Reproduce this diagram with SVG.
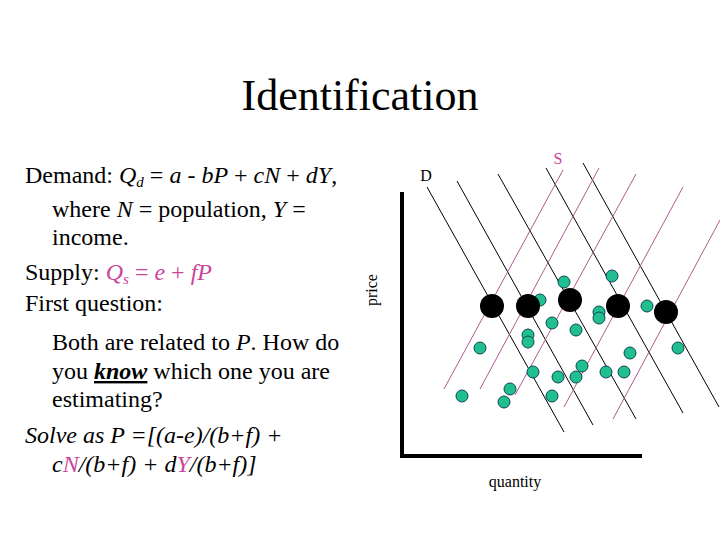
<svg xmlns="http://www.w3.org/2000/svg" width="720" height="540" viewBox="0 0 720 540" font-family="'Liberation Serif', 'Times New Roman', 'DejaVu Serif', serif">
<style>
text{font-family:'Liberation Serif','Times New Roman','DejaVu Serif',serif;fill:#000}
.b{font-size:24px}
.p{fill:#cc4499}
.dl{stroke:#000;stroke-width:1}
.sl{stroke:#b05a90;stroke-width:1}
.g{fill:#1fbf8f;stroke:#145;stroke-width:1}
.k{fill:#000}
</style>
<rect width="720" height="540" fill="#fff"/>
<text x="360" y="110" font-size="44" text-anchor="middle">Identification</text>
<g id="text">
<text x="25" y="183" class="b">Demand: <tspan font-style="italic">Q</tspan><tspan font-style="italic" font-size="15" dy="4">d</tspan><tspan dy="-4"> = </tspan><tspan font-style="italic">a</tspan> - <tspan font-style="italic">bP</tspan> + <tspan font-style="italic">cN</tspan> + <tspan font-style="italic">dY</tspan>,</text>
<text x="52" y="217" class="b">where <tspan font-style="italic">N</tspan> = population, <tspan font-style="italic">Y</tspan> =</text>
<text x="52" y="245" class="b">income.</text>
<text x="25" y="280" class="b">Supply: <tspan class="p" font-style="italic">Q</tspan><tspan class="p" font-style="italic" font-size="15" dy="4">s</tspan><tspan class="p" dy="-4"> = </tspan><tspan class="p" font-style="italic">e</tspan><tspan class="p"> + </tspan><tspan class="p" font-style="italic">fP</tspan></text>
<text x="25" y="311" class="b">First question:</text>
<text x="52" y="350" class="b">Both are related to <tspan font-style="italic">P</tspan>.  How do</text>
<text x="52" y="379" class="b">you <tspan font-weight="bold" font-style="italic" text-decoration="underline">know</tspan> which one you are</text>
<text x="52" y="407" class="b">estimating?</text>
<text x="25" y="443" class="b" font-style="italic">Solve as P =[(a-e)/(b+f)  +</text>
<text x="52" y="472" class="b" font-style="italic">c<tspan class="p">N</tspan>/(b+f) + d<tspan class="p">Y</tspan>/(b+f)]</text>
</g>
<g id="axes" stroke="#000" stroke-width="4" fill="none">
<path d="M402,192 V456 H642"/>
</g>
<text x="377" y="290" font-size="16" text-anchor="middle" transform="rotate(-90 377 290)">price</text>
<text x="515" y="487" font-size="16" text-anchor="middle">quantity</text>
<text x="426" y="181" font-size="16" text-anchor="middle">D</text>
<text x="558" y="164" font-size="16" text-anchor="middle" class="p">S</text>
<g id="connectors">
<line class="dl" x1="427" y1="187" x2="564" y2="432"/>
<line class="dl" x1="457" y1="181" x2="593" y2="425"/>
<line class="dl" x1="498" y1="174" x2="636" y2="419"/>
<line class="dl" x1="546" y1="168" x2="683" y2="413"/>
<line class="dl" x1="583" y1="163" x2="719" y2="407"/>
<line class="sl" x1="444" y1="389" x2="563" y2="170"/>
<line class="sl" x1="480" y1="389" x2="599" y2="168"/>
<line class="sl" x1="515" y1="395" x2="636" y2="174"/>
<line class="sl" x1="564" y1="407" x2="683" y2="187"/>
<line class="sl" x1="613" y1="419" x2="720" y2="220"/>
</g>
<g id="data">
<circle class="g" cx="564" cy="282" r="6"/><circle class="g" cx="612" cy="276" r="6"/>
<circle class="g" cx="540" cy="300" r="6"/><circle class="g" cx="647" cy="306" r="6"/>
<circle class="g" cx="599" cy="312" r="6"/><circle class="g" cx="599" cy="318" r="6"/>
<circle class="g" cx="552" cy="323" r="6"/><circle class="g" cx="576" cy="330" r="6"/>
<circle class="g" cx="528" cy="335" r="6"/><circle class="g" cx="528" cy="342" r="6"/>
<circle class="g" cx="480" cy="348" r="6"/><circle class="g" cx="678" cy="348" r="6"/>
<circle class="g" cx="630" cy="353" r="6"/><circle class="g" cx="582" cy="366" r="6"/>
<circle class="g" cx="533" cy="372" r="6"/><circle class="g" cx="606" cy="372" r="6"/>
<circle class="g" cx="624" cy="372" r="6"/><circle class="g" cx="558" cy="377" r="6"/>
<circle class="g" cx="576" cy="377" r="6"/><circle class="g" cx="510" cy="389" r="6"/>
<circle class="g" cx="462" cy="396" r="6"/><circle class="g" cx="552" cy="396" r="6"/>
<circle class="g" cx="504" cy="402" r="6"/>
<circle class="k" cx="492" cy="306" r="12"/><circle class="k" cx="528" cy="306" r="12"/>
<circle class="k" cx="570" cy="300" r="12"/><circle class="k" cx="618" cy="306" r="12"/>
<circle class="k" cx="666" cy="312" r="12"/>
</g>
</svg>
